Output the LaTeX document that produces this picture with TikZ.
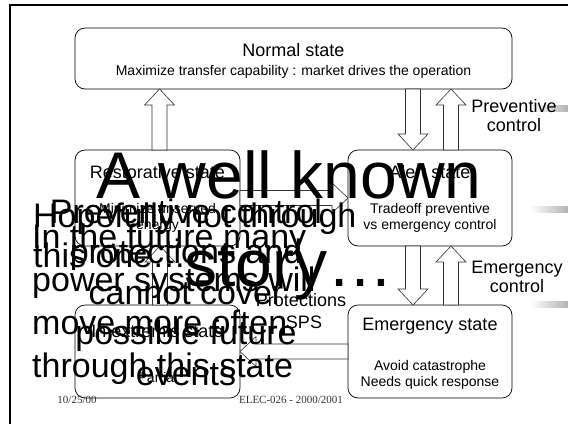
\documentclass[tikz,border=0pt]{standalone}
\usepackage{fontspec}
\setmainfont{Liberation Sans}
\newfontfamily\footfont{Liberation Serif}
\usetikzlibrary{calc}

\tikzset{
	statebox/.style={draw, rounded corners=10pt, outer sep=0pt, inner sep=0pt, line width=0.7pt},
	title/.style={font=\fontsize{18}{19}\selectfont, align=center},
	sub/.style={font=\fontsize{14}{16}\selectfont, align=center},
	bigtext/.style={font=\fontsize{34}{40}\selectfont, inner sep=0pt},
	hugetext/.style={font=\fontsize{66}{88}\selectfont, inner sep=0pt},
	fat/.style={draw=black!80, fill=white, line width=0.6pt,
		to path={let \p1=(\tikztostart), \p2=(\tikztotarget),
			\n1={atan2(\y2-\y1,\x2-\x1)}, \n2={veclen(\x2-\x1,\y2-\y1)} in
			[shift={(\p1)}, rotate=\n1]
			(0,-7.5) -- ({\n2-16},-7.5) -- ({\n2-16},-15) -- (\n2,0) -- ({\n2-16},15) -- ({\n2-16},7.5) -- (0,7.5) -- cycle}}
}

\begin{document}
\begin{tikzpicture}[x=1pt,y=-1pt]
	\useasboundingbox (0,0) rectangle (568,424);
	\foreach \yy in {108,209,304}
		\shade[left color=white, right color=gray!60] (530,\yy-3) rectangle (568,\yy+3);
	\draw[line width=2pt] (10,424) -- (10,5) -- (568,5);
	
	\node[statebox, minimum width=437pt, minimum height=61pt] (normal) at (293.5,58.5) {};
	\node[statebox, minimum width=165pt, minimum height=96pt] (restor) at (157.5,198) {};
	\node[statebox, minimum width=164pt, minimum height=96pt] (alert) at (430,198) {};
	\node[statebox, minimum width=164pt, minimum height=93pt] (emerg) at (430,351.5) {};
	\node[statebox, minimum width=165pt, minimum height=93pt] (extrem) at (157.5,351.5) {};
	
	\node[title] (normalT) at (293.5,50) {Normal state};
	\node[sub] (normalS) at (293.5,72) {Maximize transfer capability : market drives the operation};
	\node[title] (restorT) at (157.5,172) {Restorative state};
	\node[sub] (restorS) at (157.5,218) {Minimize unserved\\energy};
	\node[title] (alertT) at (430,172) {Alert state};
	\node[sub] (alertS) at (430,218) {Tradeoff preventive\\vs emergency control};
	\node[title] (emergT) at (430,326) {Emergency state};
	\node[sub] (emergS) at (430,375) {Avoid catastrophe\\Needs quick response};
	\node[title] (extremT) at (157.5,331) {In extremis state};
	\node[sub] (extremS) at (157.5,377) {Partial};
	
	\draw[fat] ([xshift=2pt]restor.north) to ([xshift=2pt]restor.north |- normal.south);
	\draw[fat] ([xshift=-17pt]alert.north |- normal.south) to ([xshift=-17pt]alert.north);
	\draw[fat] ([xshift=21pt]alert.north) to ([xshift=21pt]alert.north |- normal.south);
	\draw[fat] (restor.east) to (alert.west);
	\draw[fat] ([xshift=-17pt]alert.south) to ([xshift=-17pt]alert.south |- emerg.north);
	\draw[fat] ([xshift=21pt]emerg.north) to ([xshift=21pt]emerg.north |- alert.south);
	\draw[fat] (emerg.west) to (extrem.east);
	\draw[fat] ([xshift=2.5pt]extrem.north) to ([xshift=2.5pt]extrem.north |- restor.south);
	
	\node[title] (prevL) at (514,116) {Preventive\\control};
	\node[title] (emergL) at (517,277) {Emergency\\control};
	\node[title] (protL) at (301,300) {Protections};
	\node[title] (spsL) at (304,322) {SPS};
	
	\foreach \t/\yy [count=\i] in {A well known/198, story…/286}
		\node[hugetext, anchor=base] (story\i) at (289,\yy) {\t};
	\foreach \t [count=\i] in {Preventive control, protections and, cannot cover, possible future, events}
		\node[bigtext, anchor=base] (prev\i) at (186,182.5+40.5*\i) {\t};
	\foreach \t [count=\i] in {Hopefully not through, this one…}
		\node[bigtext, anchor=base west] (hope\i) at (33,187+40*\i) {\t};
	\foreach \t [count=\i] in {In the future many, power systems will, move more often, through this state}
		\node[bigtext, anchor=base west] (fut\i) at (32,205+43*\i) {\t};
	
	\node[font=\footfont\fontsize{11}{12}\selectfont, text=black!80] (date) at (77,400) {10/25/00};
	\node[font=\footfont\fontsize{11}{12}\selectfont, text=black!80] (course) at (291,400) {ELEC-026 - 2000/2001};
\end{tikzpicture}
\end{document}
